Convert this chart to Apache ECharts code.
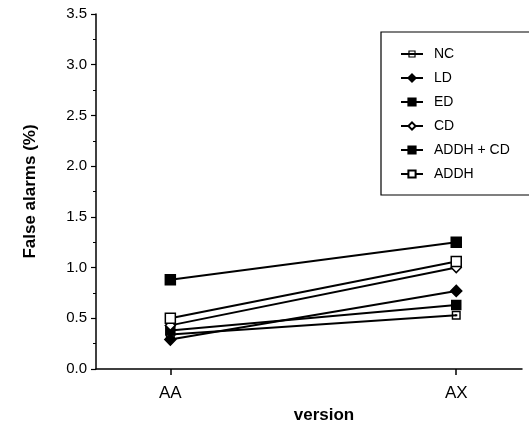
<!DOCTYPE html>
<html>
<head>
<meta charset="utf-8">
<script src="https://cdn.jsdelivr.net/npm/echarts@6/dist/echarts.min.js"></script>
<style>
  html, body { margin: 0; padding: 0; background: #fff; }
  #chart { width: 529px; height: 435px; }
</style>
</head>
<body>
<div id="chart"></div>
<script>
// versions on the x axis
const categories = ['AA', 'AX']
const groupNames = ['NC', 'LD', 'ED', 'CD', 'ADDH + CD', 'ADDH']
// false alarm rates (%) per group, [AA, AX]
const ncValues = [0.34, 0.53]
const ldValues = [0.29, 0.77]
const edValues = [0.38, 0.63]
const cdValues = [0.43, 1.0]
const addhCdValues = [0.88, 1.25]
const addhValues = [0.5, 1.06]
const yTicks = [0, 0.5, 1.0, 1.5, 2.0, 2.5, 3.0, 3.5]

const valuesByGroup = [ncValues, ldValues, edValues, cdValues, addhCdValues, addhValues]

// open square with centre dot for NC
const squareDot = 'path://M0,0 L10,0 L10,10 L0,10 Z M1.6,1.6 L1.6,8.4 L8.4,8.4 L8.4,1.6 Z M3.8,3.8 L6.2,3.8 L6.2,6.2 L3.8,6.2 Z'

const styles = [
  { symbol: squareDot, size: 9, fill: '#000' },
  { symbol: 'diamond', size: 11, fill: '#000' },
  { symbol: 'rect', size: 9, fill: '#000' },
  { symbol: 'diamond', size: 10, fill: '#fff' },
  { symbol: 'rect', size: 10, fill: '#000' },
  { symbol: 'rect', size: 10, fill: '#fff' },
]

const chart = echarts.init(document.getElementById('chart'))

const series = groupNames.map((name, i) => ({
  name,
  type: 'line',
  data: valuesByGroup[i].map((v, j) => [j, v]),
  symbol: styles[i].symbol,
  symbolSize: styles[i].size,
  showAllSymbol: true,
  lineStyle: { color: '#000', width: 2 },
  itemStyle: { color: styles[i].fill, borderColor: '#000', borderWidth: styles[i].symbol === squareDot ? 0 : 1.5 },
  z: 3 + i,
}))

const font = 'Liberation Sans, Arial, sans-serif'

chart.setOption({
  animation: false,
  backgroundColor: '#fff',
  textStyle: { fontFamily: font, color: '#000' },
  grid: { left: 96, right: 7, top: 14, bottom: 66 },
  legend: {
    orient: 'vertical',
    left: 381,
    top: 32,
    padding: [15, 80, 14, 19],
    itemWidth: 22,
    itemHeight: 9,
    itemGap: 10,
    borderColor: '#000',
    borderWidth: 1.2,
    textStyle: { fontFamily: font, fontSize: 14, color: '#000', padding: [0, 0, 0, 6] },
    data: groupNames,
  },
  xAxis: {
    type: 'value',
    min: -0.26,
    max: 1.23,
    name: 'version',
    nameLocation: 'middle',
    nameGap: 36,
    nameTextStyle: { fontFamily: font, fontSize: 17, fontWeight: 'bold', color: '#000', padding: [0, 0, 0, 30] },
    axisLine: { onZero: false, lineStyle: { color: '#000', width: 1.5 } },
    axisTick: { show: true, length: 6, customValues: [0, 1], lineStyle: { color: '#000', width: 1.5 } },
    axisLabel: {
      customValues: [0, 1],
      margin: 16,
      fontSize: 17,
      color: '#000',
      formatter: (v) => categories[Math.round(v)],
    },
    splitLine: { show: false },
  },
  yAxis: {
    type: 'value',
    min: 0,
    max: 3.5,
    interval: 0.5,
    name: 'False alarms (%)',
    nameLocation: 'middle',
    nameGap: 57,
    nameTextStyle: { fontFamily: font, fontSize: 17, fontWeight: 'bold', color: '#000' },
    axisLine: { show: true, onZero: false, lineStyle: { color: '#000', width: 1.5 } },
    axisTick: { show: true, length: 5, lineStyle: { color: '#000', width: 1.2 } },
    minorTick: { show: true, splitNumber: 2, length: 3, lineStyle: { color: '#000', width: 1 } },
    axisLabel: {
      fontSize: 15,
      color: '#000',
      margin: 9,
      customValues: yTicks,
      formatter: (v) => v.toFixed(1),
    },
    splitLine: { show: false },
  },
  series,
})
</script>
</body>
</html>
